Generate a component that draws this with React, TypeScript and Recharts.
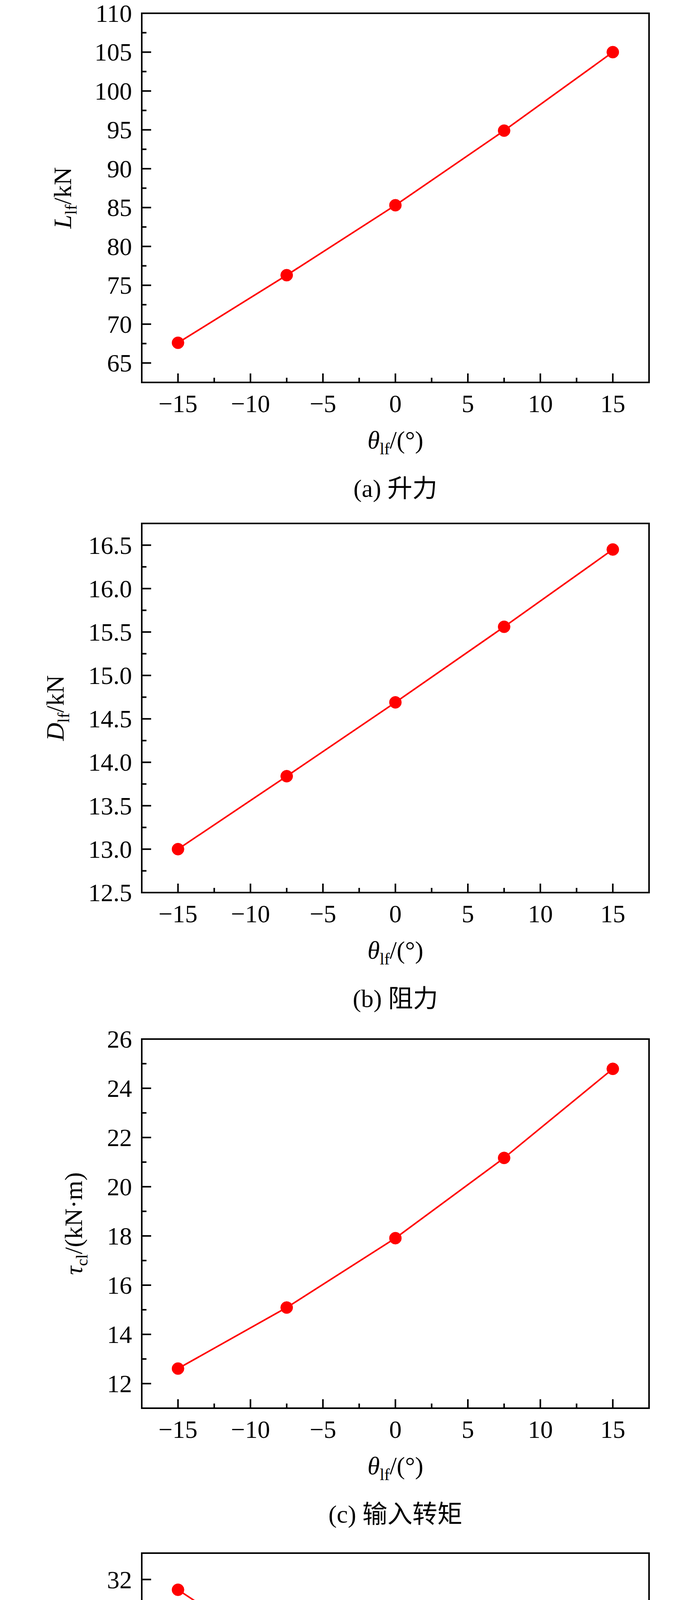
import React from 'react';
import { LineChart, Line, XAxis, YAxis, ReferenceArea } from 'recharts';

// θlf sweep, shared by all four panels
const thetaLf = [-15, -7.5, 0, 7.5, 15];

const liftKN = [67.6, 76.3, 85.3, 94.9, 105.0];
const dragKN = [13.0, 13.84, 14.69, 15.56, 16.45];
const torqueKNm = [12.61, 15.09, 17.91, 21.17, 24.79];
const surgeMargin = [31.61, 28.89, 26.23, 23.14, 19.94];

const xMajor = [-15, -10, -5, 0, 5, 10, 15];
const xMinor = [-12.5, -7.5, -2.5, 2.5, 7.5, 12.5];

const liftMajor = [65, 70, 75, 80, 85, 90, 95, 100, 105, 110];
const liftMinor = [67.5, 72.5, 77.5, 82.5, 87.5, 92.5, 97.5, 102.5, 107.5];
const dragMajor = [12.5, 13, 13.5, 14, 14.5, 15, 15.5, 16, 16.5];
const dragMinor = [12.75, 13.25, 13.75, 14.25, 14.75, 15.25, 15.75, 16.25, 16.75];
const torqueMajor = [12, 14, 16, 18, 20, 22, 24, 26];
const torqueMinor = [13, 15, 17, 19, 21, 23, 25];
const marginMajor = [20, 22, 24, 26, 28, 30, 32];
const marginMinor = [21, 23, 25, 27, 29, 31];

const W = 1772;
const H = 1313;
const PAGE_H = 5235;
const PLOT_TOP = 34;
const PLOT_LEFT = 363;
const PLOT_RIGHT = 110;
const X_AXIS_H = 334;
const PLOT_H = H - PLOT_TOP - X_AXIS_H;

const SERIF = "'Liberation Serif', 'Times New Roman', 'Noto Sans CJK SC', serif";
const RED = '#ff0000';

const fmtSigned = (v: number, decimals: number) => {
  const s = Math.abs(v).toFixed(decimals);
  return v < 0 ? '\u2212' + s : s;
};

const renderXTick = (p: any) => {
  const { x, y, payload } = p;
  const v = payload.value;
  const major = xMajor.includes(v);
  return (
    <g>
      <line x1={x} x2={x} y1={y} y2={y - (major ? 23 : 12)} stroke="#000" strokeWidth={4} />
      {major && (
        <text x={x} y={y + 76} textAnchor="middle" fontFamily={SERIF} fontSize={64} fill="#000">
          {fmtSigned(v, 0)}
        </text>
      )}
    </g>
  );
};

const makeYTick = (majors: number[], decimals: number) => (p: any) => {
  const { x, y, payload } = p;
  const v = payload.value;
  const major = majors.includes(v);
  return (
    <g>
      <line x1={x} x2={x + (major ? 24 : 12)} y1={y} y2={y} stroke="#000" strokeWidth={4} />
      {major && (
        <text x={x - 25} y={y + 22} textAnchor="end" fontFamily={SERIF} fontSize={64} fill="#000">
          {fmtSigned(v, decimals)}
        </text>
      )}
    </g>
  );
};

interface Title {
  sym: string;
  sub: string;
  rest: string;
}

interface PanelProps {
  top: number;
  values: number[];
  domain: [number, number];
  major: number[];
  minor: number[];
  decimals: number;
  yTitle: Title;
  titleX: number;
  caption: string;
}

function Panel({ top, values, domain, major, minor, decimals, yTitle, titleX, caption }: PanelProps) {
  const data = thetaLf.map((theta, i) => ({ theta, value: values[i] }));

  const renderYTitle = (props: any) => {
    const vb = props.viewBox || {};
    const cy = vb.height ? vb.y + vb.height / 2 : PLOT_TOP + PLOT_H / 2;
    return (
      <text
        transform={`translate(${titleX},${cy}) rotate(-90)`}
        textAnchor="middle"
        fontFamily={SERIF}
        fontSize={64}
        fill="#000"
      >
        <tspan fontStyle="italic">{yTitle.sym}</tspan>
        <tspan fontSize={42} dy={14}>{yTitle.sub}</tspan>
        <tspan dy={-14}>{yTitle.rest}</tspan>
      </text>
    );
  };

  const renderXTitle = (props: any) => {
    const vb = props.viewBox || {};
    const cx = vb.width ? vb.x + vb.width / 2 : PLOT_LEFT + (W - PLOT_LEFT - PLOT_RIGHT) / 2;
    const ay = vb.y !== undefined ? vb.y : PLOT_TOP + PLOT_H;
    return (
      <g>
        <text x={cx} y={ay + 169} textAnchor="middle" fontFamily={SERIF} fontSize={64} fill="#000">
          <tspan fontStyle="italic">θ</tspan>
          <tspan fontSize={42} dy={15}>lf</tspan>
          <tspan dy={-15}>/(°)</tspan>
        </text>
        <text x={cx} y={ay + 293} textAnchor="middle" fontFamily={SERIF} fontSize={64} fill="#000">
          {caption}
        </text>
      </g>
    );
  };

  return (
    <div style={{ position: 'absolute', left: 0, top }}>
      <LineChart
        width={W}
        height={H}
        data={data}
        margin={{ top: PLOT_TOP, right: PLOT_RIGHT, bottom: 0, left: 0 }}
      >
        <ReferenceArea
          x1={-17.5}
          x2={17.5}
          y1={domain[0]}
          y2={domain[1]}
          fill="none"
          fillOpacity={0}
          stroke="#000"
          strokeWidth={4}
          ifOverflow="visible"
        />
        <XAxis
          dataKey="theta"
          type="number"
          domain={[-17.5, 17.5]}
          ticks={[...xMajor, ...xMinor]}
          interval={0}
          height={X_AXIS_H}
          axisLine={false}
          tickLine={false}
          tickSize={0}
          tickMargin={0}
          tick={renderXTick}
          label={{ content: renderXTitle }}
        />
        <YAxis
          type="number"
          domain={domain}
          allowDataOverflow
          ticks={[...major, ...minor]}
          interval={0}
          width={PLOT_LEFT}
          axisLine={false}
          tickLine={false}
          tickSize={0}
          tickMargin={0}
          tick={makeYTick(major, decimals)}
          label={{ content: renderYTitle }}
        />
        <Line
          dataKey="value"
          stroke={RED}
          strokeWidth={4}
          dot={{ r: 15.5, fill: RED, stroke: RED, strokeWidth: 1 }}
          activeDot={false}
          isAnimationActive={false}
        />
      </LineChart>
    </div>
  );
}

export default function App() {
  // in normal flow so the page itself is as tall as the figure; -8px cancels the body margin
  return (
    <div style={{ position: 'relative', width: W, height: PAGE_H, margin: '-8px', background: '#fff', overflow: 'hidden' }}>
      <Panel
        top={0}
        values={liftKN}
        domain={[62.5, 110]}
        major={liftMajor}
        minor={liftMinor}
        decimals={0}
        yTitle={{ sym: 'L', sub: 'lf', rest: '/kN' }}
        titleX={182}
        caption="(a) 升力"
      />
      <Panel
        top={1306}
        values={dragKN}
        domain={[12.5, 16.75]}
        major={dragMajor}
        minor={dragMinor}
        decimals={1}
        yTitle={{ sym: 'D', sub: 'lf', rest: '/kN' }}
        titleX={163}
        caption="(b) 阻力"
      />
      <Panel
        top={2626}
        values={torqueKNm}
        domain={[11, 26]}
        major={torqueMajor}
        minor={torqueMinor}
        decimals={0}
        yTitle={{ sym: 'τ', sub: 'cl', rest: '/(kN·m)' }}
        titleX={210}
        caption="(c) 输入转矩"
      />
      <Panel
        top={3942}
        values={surgeMargin}
        domain={[19, 33]}
        major={marginMajor}
        minor={marginMinor}
        decimals={0}
        yTitle={{ sym: 'M', sub: 'lf', rest: '/%' }}
        titleX={208}
        caption="(d) 喘振裕度"
      />
    </div>
  );
}
